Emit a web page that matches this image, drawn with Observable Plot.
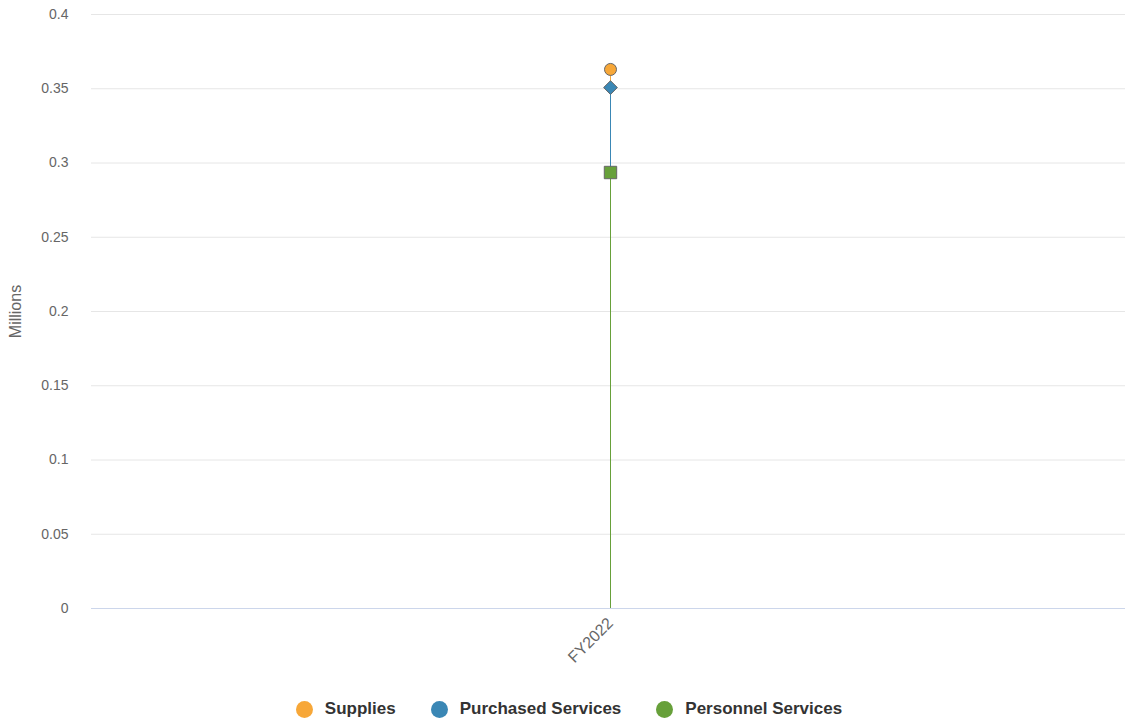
<!DOCTYPE html>
<html>
<head>
<meta charset="utf-8">
<script src="https://cdn.jsdelivr.net/npm/d3@7"></script>
<script src="https://cdn.jsdelivr.net/npm/@observablehq/plot@0.6"></script>
<style>
  html, body { margin: 0; padding: 0; background: #fff; }
  body { width: 1125px; height: 724px; overflow: hidden; font-family: "Liberation Sans", Arial, sans-serif; }
  #legend { display: flex; justify-content: center; align-items: center; height: 38px; padding-top: 4px; margin-left: 134px; width: 870px; }
  .item { display: flex; align-items: center; font-weight: bold; font-size: 17px; color: #333; margin-right: 35px; }
  .item:last-child { margin-right: 0; }
  .sw { width: 17px; height: 17px; border-radius: 50%; margin-right: 12px; }
</style>
</head>
<body>
<div id="chart"></div>
<div id="legend"></div>
<script>
const categories = ["FY2022"];
const seriesNames = ["Personnel Services", "Purchased Services", "Supplies"];
const seriesValues = [0.2936, 0.0572, 0.0122];
const seriesColors = ["#67a03a", "#3a87b5", "#f7a738"];
const seriesSymbols = ["square", "diamond2", "circle"];
const yTicks = [0, 0.05, 0.1, 0.15, 0.2, 0.25, 0.3, 0.35, 0.4];
const legendOrder = ["Supplies", "Purchased Services", "Personnel Services"];

const tops = d3.cumsum(seriesValues);
const markerR = [7, 6.2, 6];
const rows = seriesNames.map((name, i) => ({
  name, cat: categories[0], y1: i === 0 ? 0 : tops[i - 1], y2: tops[i],
  color: seriesColors[i], symbol: seriesSymbols[i], r: markerR[i]
}));

const chart = Plot.plot({
  width: 1125,
  height: 686,
  marginTop: 14,
  marginBottom: 78,
  marginLeft: 91,
  marginRight: 0,
  style: { fontFamily: "Liberation Sans, Arial, sans-serif", fontSize: "14px", color: "#666" },
  x: { type: "point", domain: categories, range: [95, 1125], label: null },
  y: { domain: [0, 0.4], label: null },
  r: { type: "identity" },
  marks: [
    Plot.gridY(yTicks, { stroke: "#e6e6e6", strokeOpacity: 1 }),
    Plot.ruleY([0], { stroke: "#ccd6eb" }),
    Plot.axisY(yTicks, { tickSize: 0, tickPadding: 23, tickFormat: d => String(+d.toFixed(2)), fill: "#666", fontSize: 14, label: null }),
    Plot.axisY({ ticks: [], tickSize: 0, fill: "#666", fontSize: 16,
      label: "Millions", labelAnchor: "center", labelOffset: 82, labelArrow: "none" }),
    Plot.axisX({ tickSize: 0, tickRotate: -45, tickPadding: 12, fill: "#666", fontSize: 16, label: null }),
    Plot.ruleX(rows, { x: "cat", y1: "y1", y2: "y2", stroke: "color", strokeWidth: 1 }),
    Plot.dot(rows, { x: "cat", y: "y2", fill: "color", symbol: "symbol", stroke: "#666", strokeWidth: 1, r: "r" })
  ]
});
document.getElementById("chart").appendChild(chart);

const leg = document.getElementById("legend");
legendOrder.forEach(n => {
  const i = seriesNames.indexOf(n);
  const it = document.createElement("div");
  it.className = "item";
  it.innerHTML = `<span class="sw" style="background:${seriesColors[i]}"></span>${n}`;
  leg.appendChild(it);
});
</script>
</body>
</html>
